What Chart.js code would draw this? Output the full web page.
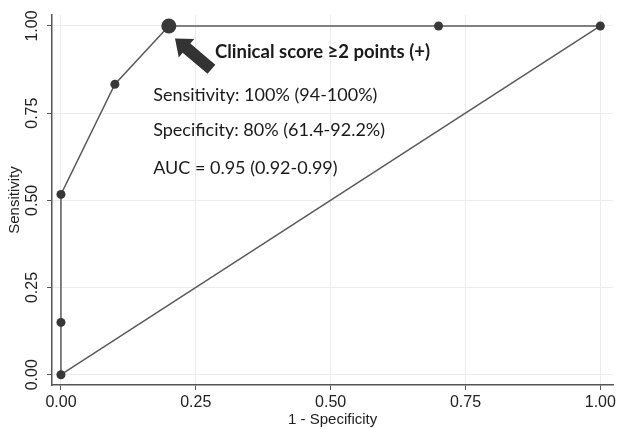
<!DOCTYPE html>
<html>
<head>
<meta charset="utf-8">
<script src="https://cdn.jsdelivr.net/npm/chart.js@4"></script>
<style>
  html, body { margin: 0; padding: 0; background: #fff; }
  #wrap { width: 619px; height: 429px; }
</style>
</head>
<body>
<div id="wrap"><canvas id="c" width="619" height="429"></canvas></div>
<script>
// ROC curve points (1 - specificity, sensitivity)
const rocX = [0, 0, 0, 0.1, 0.2, 0.7, 1];
const rocY = [0, 0.15, 0.517, 0.833, 1, 1, 1];
const rocRadius = [4.5, 4.5, 4.5, 4.5, 7.5, 4.5, 4.5];
// reference diagonal
const refX = [0, 1];
const refY = [0, 1];
const tickValues = [0, 0.25, 0.5, 0.75, 1];
const tickLabels = ['0.00', '0.25', '0.50', '0.75', '1.00'];

const cutoffLabel = 'Clinical score \u22652 points (+)';
const statLines = [
    'Sensitivity: 100% (94-100%)',
    'Specificity: 80% (61.4-92.2%)',
    'AUC = 0.95 (0.92-0.99)'
];

const lineColor = '#5a5a5a';
const dotColor = '#383838';
const sansFamily = '"Liberation Sans", Arial, sans-serif';

const annotations = {
    id: 'annotations',
    afterDatasetsDraw(chart) {
        const ctx = chart.ctx;
        const xs = chart.scales.x, ys = chart.scales.y;
        const px = v => xs.getPixelForValue(v);
        const py = v => ys.getPixelForValue(v);
        ctx.save();

        // arrow pointing at the cutoff point
        const tipX = px(0.2115), tipY = py(0.964);
        const tailX = px(0.279), tailY = py(0.876);
        const ang = Math.atan2(tipY - tailY, tipX - tailX);
        const len = Math.hypot(tipX - tailX, tipY - tailY);
        ctx.translate(tipX, tipY);
        ctx.rotate(ang);
        ctx.fillStyle = '#333';
        ctx.beginPath();
        ctx.moveTo(0, 0);
        ctx.lineTo(-15, -12);
        ctx.lineTo(-15, -6);
        ctx.lineTo(-len, -6);
        ctx.lineTo(-len, 6);
        ctx.lineTo(-15, 6);
        ctx.lineTo(-15, 12);
        ctx.closePath();
        ctx.fill();
        ctx.setTransform(1, 0, 0, 1, 0, 0);

        ctx.fillStyle = '#1a1a1a';
        ctx.textBaseline = 'middle';
        ctx.textAlign = 'left';
        ctx.font = 'bold 18.5px Lato, "Open Sans", sans-serif';
        ctx.fillText(cutoffLabel, px(0.2855), py(0.925));
        ctx.font = '18px Lato, "Open Sans", sans-serif';
        const rows = [0.802, 0.702, 0.593];
        statLines.forEach((t, i) => ctx.fillText(t, px(0.171), py(rows[i])));

        // rotated y tick labels
        ctx.fillStyle = '#222';
        ctx.font = '16px ' + sansFamily;
        ctx.textAlign = 'center';
        tickValues.forEach((v, i) => {
            ctx.save();
            ctx.translate(33, py(v));
            ctx.rotate(-Math.PI / 2);
            ctx.fillText(tickLabels[i], 0, 0);
            ctx.restore();
        });
        ctx.restore();
    }
};

const ctx = document.getElementById('c').getContext('2d');
const chart = new Chart(ctx, {
    type: 'scatter',
    data: {
        datasets: [
            {
                label: 'ROC',
                data: rocX.map((x, i) => ({ x: x, y: rocY[i] })),
                showLine: true,
                borderColor: lineColor,
                borderWidth: 1.5,
                backgroundColor: dotColor,
                pointBackgroundColor: dotColor,
                pointBorderWidth: 0,
                pointRadius: rocRadius
            },
            {
                label: 'Reference',
                data: refX.map((x, i) => ({ x: x, y: refY[i] })),
                showLine: true,
                borderColor: lineColor,
                borderWidth: 1.5,
                pointRadius: 0
            }
        ]
    },
    options: {
        responsive: false,
        animation: false,
        layout: { padding: { top: 15, right: 2, left: 0, bottom: 0 } },
        plugins: {
            legend: { display: false },
            tooltip: { enabled: false }
        },
        scales: {
            x: {
                type: 'linear',
                min: -0.0166,
                max: 1.024,
                afterBuildTicks: s => { s.ticks = tickValues.map(v => ({ value: v })); },
                afterFit: s => { s.height = 44; },
                border: { display: true, color: '#555', width: 1.5 },
                grid: { color: '#ececec', lineWidth: 1, tickColor: '#555', tickLength: 5 },
                ticks: {
                    color: '#222',
                    font: { family: sansFamily, size: 16 },
                    padding: 3,
                    maxRotation: 0,
                    callback: v => tickLabels[tickValues.indexOf(v)]
                },
                title: {
                    display: true,
                    text: '1 - Specificity',
                    color: '#222',
                    font: { family: sansFamily, size: 15 },
                    padding: { top: 0, bottom: 0 }
                }
            },
            y: {
                type: 'linear',
                min: -0.0295,
                max: 1.0315,
                afterBuildTicks: s => { s.ticks = tickValues.map(v => ({ value: v })); },
                afterFit: s => { s.width = 52; },
                border: { display: true, color: '#555', width: 1.5 },
                grid: { color: '#ececec', lineWidth: 1, tickColor: '#555', tickLength: 5 },
                ticks: { display: false },
                title: {
                    display: true,
                    text: 'Sensitivity',
                    color: '#222',
                    font: { family: sansFamily, size: 15 },
                    padding: { top: 6, bottom: 0 }
                }
            }
        }
    },
    plugins: [annotations]
});
</script>
</body>
</html>
